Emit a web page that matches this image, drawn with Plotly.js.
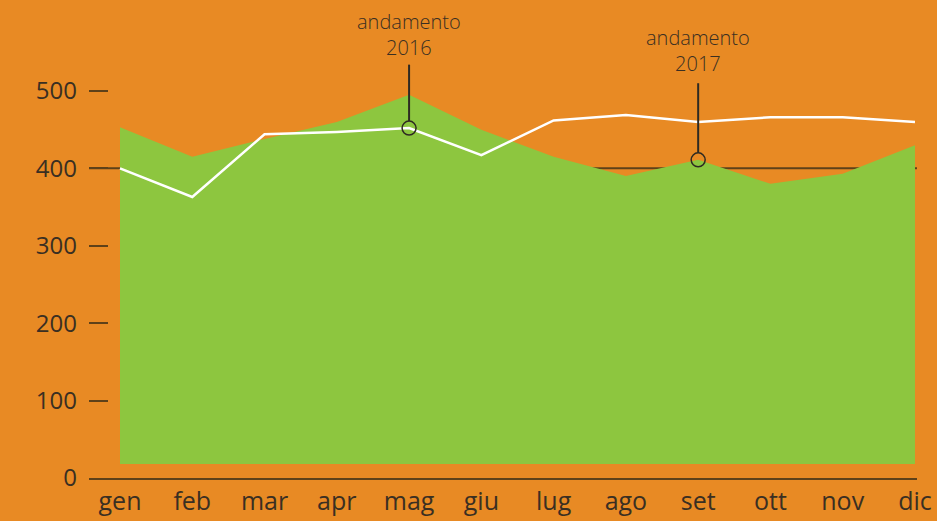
<!DOCTYPE html>
<html><head><meta charset="utf-8">
<script src="https://cdn.plot.ly/plotly-3.0.1.min.js"></script>
<style>html,body{margin:0;padding:0;background:#E88A24;}</style>
</head><body><div id="chart" style="width:937px;height:521px;"></div>
<script>
const months = ["gen","feb","mar","apr","mag","giu","lug","ago","set","ott","nov","dic"];
const values2017 = [453, 415, 438, 460, 495, 450, 415, 390, 411, 380, 393, 430];
const values2016 = [400, 363, 444, 447, 452, 417, 462, 469, 460, 466, 466, 460];
const areaBase = [18, 18, 18, 18, 18, 18, 18, 18, 18, 18, 18, 18];
const yTicks = [0, 100, 200, 300, 400, 500];

const xIdx = months.map((m, i) => i);
const lineCol = "#5e4119";
const textCol = "#3a2f22";
const fam = "'Open Sans', Lato, sans-serif";

const traces = [
  {x: xIdx, y: areaBase, type: "scatter", mode: "lines", line: {width: 0, color: "rgba(0,0,0,0)"}, hoverinfo: "skip", showlegend: false},
  {x: xIdx, y: values2017, type: "scatter", mode: "lines", fill: "tonexty", fillcolor: "#8DC63F", line: {width: 0, color: "#8DC63F"}, showlegend: false},
  {x: xIdx, y: values2016, type: "scatter", mode: "lines", line: {width: 2.5, color: "#ffffff"}, showlegend: false}
];

const i16 = months.indexOf("mag");
const i17 = months.indexOf("set");
const annFont = {size: 20, color: textCol, family: fam, weight: 300};

const layout = {
  width: 937, height: 521,
  paper_bgcolor: "#E88A24", plot_bgcolor: "#E88A24",
  margin: {l: 89, r: 20, t: 60, b: 43},
  showlegend: false,
  font: {family: fam, color: textCol},
  xaxis: {
    range: [-0.429, 11.028], tickvals: xIdx, ticktext: months,
    showgrid: false, zeroline: false, showline: true, linecolor: lineCol, linewidth: 2,
    ticks: "", tickfont: {size: 25, color: textCol, family: fam}, ticklabelstandoff: 0
  },
  yaxis: {
    range: [0, 540], tickvals: yTicks, ticktext: yTicks.map(String),
    showgrid: false, zeroline: false, showline: false,
    ticks: "inside", ticklen: 19, tickwidth: 2, tickcolor: lineCol,
    tickfont: {size: 24, color: textCol, family: fam}, ticklabelstandoff: 11
  },
  shapes: [
    {type: "line", xref: "paper", yref: "y", x0: 0, x1: 1, y0: 400, y1: 400, line: {color: lineCol, width: 2}, layer: "below"},
    {type: "line", xref: "x", yref: "y", x0: i16, x1: i16, y0: 534, y1: values2016[i16] + 9, line: {color: "#2e2a22", width: 2}},
    {type: "circle", xref: "x", yref: "y", xsizemode: "pixel", ysizemode: "pixel", xanchor: i16, yanchor: values2016[i16], x0: -7, x1: 7, y0: -7, y1: 7, line: {color: "#2e2a22", width: 1.5}},
    {type: "line", xref: "x", yref: "y", x0: i17, x1: i17, y0: 510, y1: values2017[i17] + 9, line: {color: "#2e2a22", width: 2}},
    {type: "circle", xref: "x", yref: "y", xsizemode: "pixel", ysizemode: "pixel", xanchor: i17, yanchor: values2017[i17], x0: -7, x1: 7, y0: -7, y1: 7, line: {color: "#2e2a22", width: 1.5}}
  ],
  annotations: [
    {xref: "x", yref: "paper", x: i16, y: 1, yshift: 26, yanchor: "middle", borderpad: 0, text: "andamento<br>2016", showarrow: false, font: annFont},
    {xref: "x", yref: "paper", x: i17, y: 1, yshift: 10, yanchor: "middle", borderpad: 0, text: "andamento<br>2017", showarrow: false, font: annFont}
  ]
};

Plotly.newPlot("chart", traces, layout, {displayModeBar: false, staticPlot: true});
</script></body></html>
